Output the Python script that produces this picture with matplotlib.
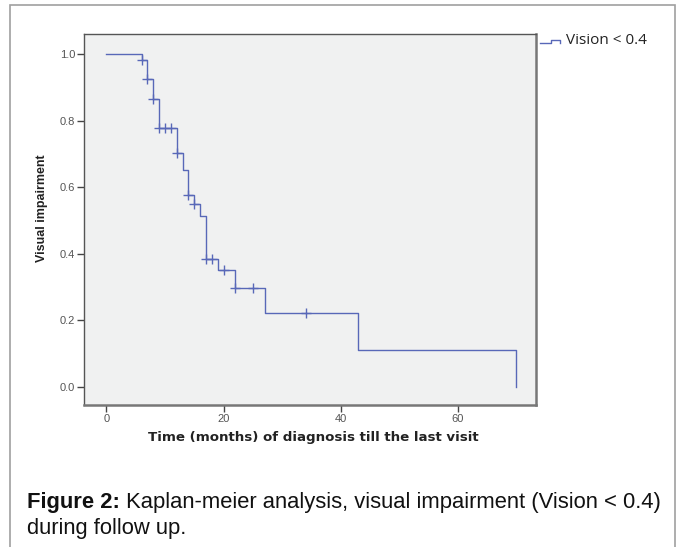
import matplotlib
matplotlib.use("Agg")
import matplotlib.pyplot as plt
from matplotlib.patches import Rectangle
from matplotlib.lines import Line2D

# Kaplan-Meier step data (time in months, survival after drop)
event_times = [0, 6, 7, 8, 9, 12, 13, 14, 15, 16, 17, 19, 22, 27, 43, 70]
surv_values = [1.0, 0.982, 0.925, 0.865, 0.778, 0.703, 0.652, 0.577, 0.549,
               0.514, 0.385, 0.350, 0.298, 0.223, 0.111, 0.0]
censor_times = [6, 7, 8, 9, 10, 11, 12, 14, 15, 17, 18, 20, 22, 25, 34]
x_ticks = [0, 20, 40, 60]
y_ticks = [0.0, 0.2, 0.4, 0.6, 0.8, 1.0]
legend_label = "Vision < 0.4"
x_label = "Time (months) of diagnosis till the last visit"
y_label = "Visual impairment"
caption_bold = "Figure 2:"
caption_rest = " Kaplan-meier analysis, visual impairment (Vision < 0.4)"
caption_line2 = "during follow up."

W, H = 682, 547
fig = plt.figure(figsize=(W / 100, H / 100), dpi=100)
fig.patch.set_facecolor("white")

line_color = "#5868b8"

# outer frame
fig.patches.append(Rectangle((10 / W, -0.05), (675 - 10) / W, 1.05 - 5 / H,
                             transform=fig.transFigure, fill=False,
                             edgecolor="#a0a0a0", linewidth=1.2))

ax = fig.add_axes([84 / W, 1 - 404.5 / H, (536 - 84) / W, (404.5 - 34) / H])
ax.set_facecolor("#f0f1f1")

ax.step(event_times, surv_values, where="post", color=line_color, lw=1.0)


def surv_at(t):
    s = surv_values[0]
    for et, v in zip(event_times, surv_values):
        if et <= t:
            s = v
    return s


ax.plot(censor_times, [surv_at(t) for t in censor_times], linestyle="none",
        marker="+", markersize=7, markeredgewidth=1.0, color=line_color)

ax.set_xlim(-3.84, 73.36)
ax.set_ylim(-0.053, 1.060)
ax.set_xticks(x_ticks)
ax.set_yticks(y_ticks)
ax.set_yticklabels([f"{v:.1f}" for v in y_ticks])
ax.tick_params(axis="both", direction="out", length=5, width=1,
               color="#444444", labelcolor="#555555", labelsize=8,
               pad=1.5)
for sp in ax.spines.values():
    sp.set_color("#555555")
    sp.set_linewidth(1.0)
ax.spines["right"].set_linewidth(1.8)
ax.spines["bottom"].set_linewidth(1.8)
ax.spines["right"].set_color("#777777")
ax.spines["bottom"].set_color("#777777")
for lab in ax.get_xticklabels() + ax.get_yticklabels():
    lab.set_family(["Liberation Sans", "DejaVu Sans"])

fig.text(313.5 / W, 1 - 438 / H, x_label, ha="center", va="center",
         fontsize=9.6, fontweight="bold", color="#222222",
         family=["DejaVu Sans"])
fig.text(42 / W, 1 - 208 / H, y_label, ha="center", va="center",
         rotation=90, fontsize=9, fontweight="bold", color="#222222",
         family=["Liberation Sans", "DejaVu Sans"])

# legend
lx = [540, 551, 551, 560, 560]
ly = [43, 43, 39.5, 39.5, 43]
fig.lines.append(Line2D([x / W for x in lx], [1 - y / H for y in ly],
                        transform=fig.transFigure, color=line_color, lw=1.0))
fig.text(566 / W, 1 - 41 / H, legend_label, ha="left", va="center",
         fontsize=11, color="#222222",
         family=["Open Sans", "DejaVu Sans"])

# caption
cap_fs = 15.8
t1 = fig.text(27 / W, 1 - 508 / H, caption_bold, ha="left", va="baseline",
              fontsize=cap_fs, fontweight="bold", color="#111111",
              family=["Liberation Sans", "DejaVu Sans"])
fig.canvas.draw()
bb = t1.get_window_extent(renderer=fig.canvas.get_renderer())
fig.text(bb.x1 / W, 1 - 508 / H, caption_rest, ha="left", va="baseline",
         fontsize=cap_fs, color="#111111",
         family=["Liberation Sans", "DejaVu Sans"])
fig.text(27 / W, 1 - 534 / H, caption_line2, ha="left", va="baseline",
         fontsize=cap_fs, color="#111111",
         family=["Liberation Sans", "DejaVu Sans"])

fig.savefig("out.png", dpi=100, facecolor="white")
